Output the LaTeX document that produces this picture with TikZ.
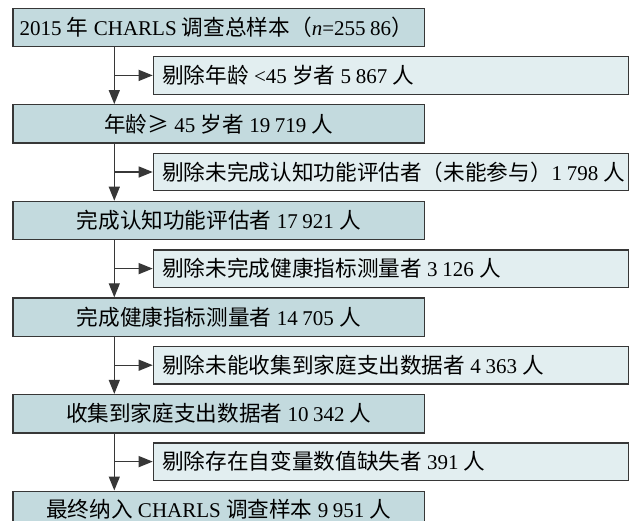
\documentclass[tikz,border=0pt]{standalone}
\usepackage{fontspec}
\setmainfont{Liberation Serif}
\newfontfamily\cjk[Scale=1.03]{Noto Sans CJK SC}
\usetikzlibrary{arrows.meta}
\definecolor{mainfill}{RGB}{195,218,222}
\definecolor{sidefill}{RGB}{226,238,240}
\definecolor{edge}{RGB}{55,55,55}
\newcommand{\ns}{\hspace{0.22em}}
\newcommand{\sidetext}[1]{\makebox[457.3pt][l]{#1}}
\tikzset{
  mainbox/.style={draw=edge, fill=mainfill, line width=1.3pt, anchor=north west,
    minimum width=411.7pt, minimum height=38.3pt, inner sep=0pt,
    font=\fontsize{21}{25}\selectfont},
  sidebox/.style={draw=edge, fill=sidefill, line width=1.3pt, anchor=north west,
    minimum width=475.3pt, minimum height=37.5pt, inner xsep=9pt, inner ysep=0pt,
    font=\fontsize{21}{25}\selectfont},
  arr/.style={draw=edge, line width=1.3pt, -{Triangle[length=14pt,width=11pt]}}
}
\begin{document}
\begin{tikzpicture}[x=1pt,y=-1pt]
\useasboundingbox[fill=white] (0,0) rectangle (632,520);
\coordinate (spine) at (114.3,0);
\node[mainbox] (m1) at (12.3,7.5) {\hspace*{-5pt}2015 {\cjk 年} CHARLS {\cjk 调查总样本（}\textit{n}=255\ns86{\cjk ）}};
\node[sidebox] (s1) at (152.7,56) {\sidetext{{\cjk 剔除年龄} <45 {\cjk 岁者} 5\ns867 {\cjk 人}}};
\node[mainbox] (m2) at (12.3,104.1) {{\cjk 年龄≥} 45 {\cjk 岁者} 19\ns719 {\cjk 人}};
\node[sidebox] (s2) at (152.7,152.6) {\sidetext{{\cjk 剔除未完成认知功能评估者（未能参与）}1\ns798 {\cjk 人}}};
\node[mainbox] (m3) at (12.3,200.7) {{\cjk 完成认知功能评估者} 17\ns921 {\cjk 人}};
\node[sidebox] (s3) at (152.7,249.2) {\sidetext{{\cjk 剔除未完成健康指标测量者} 3\ns126 {\cjk 人}}};
\node[mainbox] (m4) at (12.3,297.3) {{\cjk 完成健康指标测量者} 14\ns705 {\cjk 人}};
\node[sidebox] (s4) at (152.7,345.8) {\sidetext{{\cjk 剔除未能收集到家庭支出数据者} 4\ns363 {\cjk 人}}};
\node[mainbox] (m5) at (12.3,393.9) {{\cjk 收集到家庭支出数据者} 10\ns342 {\cjk 人}};
\node[sidebox] (s5) at (152.7,442.2) {\sidetext{{\cjk 剔除存在自变量数值缺失者} 391 {\cjk 人}}};
\node[mainbox] (m6) at (12.3,490.5) {\raisebox{4.5pt}{{\cjk 最终纳入} CHARLS {\cjk 调查样本} 9\ns951 {\cjk 人}}};
\foreach \a/\b in {m1/m2,m2/m3,m3/m4,m4/m5,m5/m6}{
  \draw[arr] (\a.south -| spine) -- (\b.north -| spine);
}
\foreach \s in {s1,s2,s3,s4,s5}{
  \draw[arr] (\s.west -| spine) -- (\s.west);
}
\end{tikzpicture}
\end{document}
